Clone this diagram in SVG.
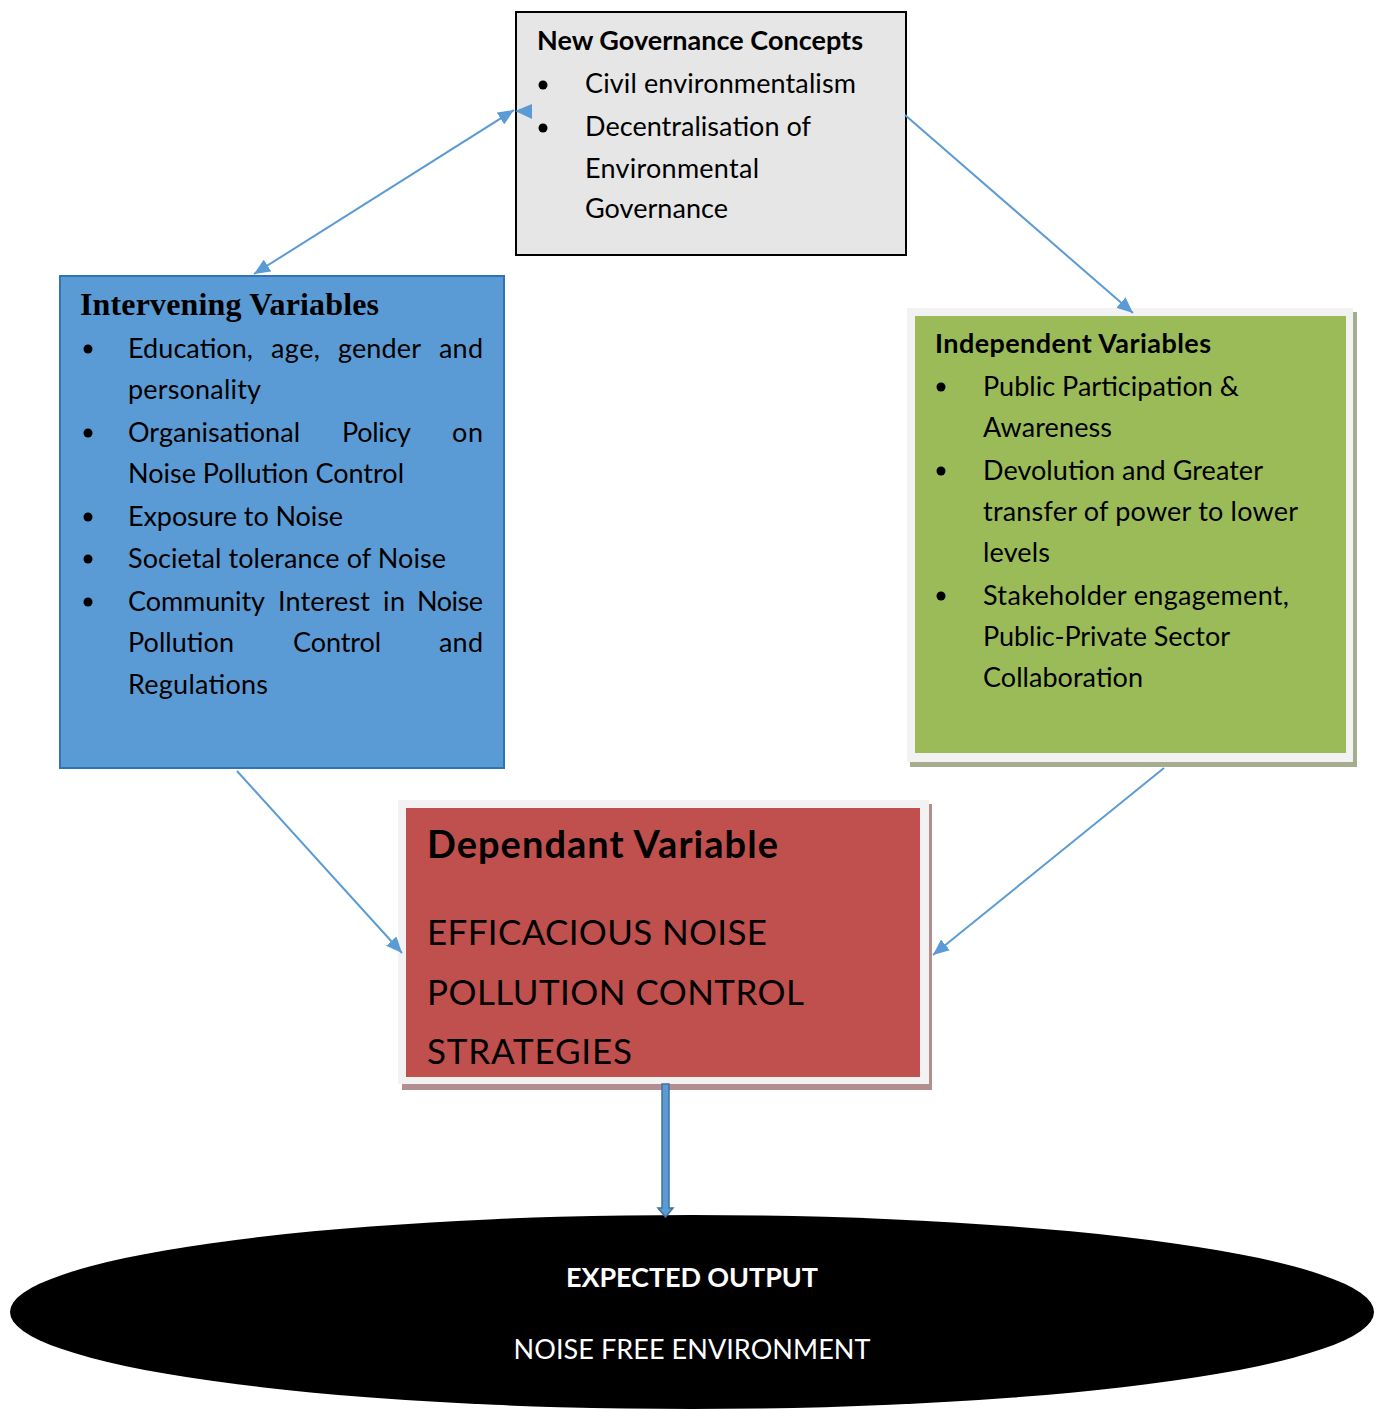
<svg xmlns="http://www.w3.org/2000/svg" width="1383" height="1409" viewBox="0 0 1383 1409">
<defs>
<marker id="ah" markerUnits="userSpaceOnUse" markerWidth="18" markerHeight="14" refX="16" refY="7" orient="auto-start-reverse" viewBox="0 0 18 14">
<path d="M0,0 L16,7 L0,14 z" fill="#5b9bd5"/>
</marker>
<style>
.t{font-family:Lato,"Open Sans","Liberation Sans",sans-serif;font-size:27px;fill:#000}
.b{font-weight:bold}
.w{fill:#fff}
.big{font-size:35px}
.hd{font-size:27px}
.dv{font-size:38px}
.serif{font-family:"Liberation Serif","Times New Roman",serif;font-size:32px;font-weight:bold;fill:#000}
.conn{stroke:#5b9bd5;stroke-width:2;fill:none}
</style>
</defs>
<rect width="1383" height="1409" fill="#fff"/>

<g id="node-output">
<ellipse cx="692" cy="1312" rx="682" ry="97" fill="#000"/>
<text class="t b w" x="692" y="1287" text-anchor="middle" textLength="252">EXPECTED OUTPUT</text>
<text class="t w" x="692" y="1359" text-anchor="middle" textLength="357">NOISE FREE ENVIRONMENT</text>
</g>

<g id="node-governance">
<rect x="516" y="12" width="390" height="243" fill="#e6e6e6" stroke="#000" stroke-width="2"/>
<text class="t b hd" x="537" y="50" textLength="326">New Governance Concepts</text>
<circle cx="543" cy="85" r="4.5"/>
<circle cx="543" cy="128" r="4.5"/>
<text class="t" x="585" y="93" textLength="271">Civil environmentalism</text>
<text class="t" x="585" y="136" textLength="226">Decentralisation of</text>
<text class="t" x="585" y="178" textLength="174">Environmental</text>
<text class="t" x="585" y="218" textLength="143">Governance</text>
</g>

<g id="node-intervening">
<rect x="60" y="276" width="444" height="492" fill="#5b9bd5" stroke="#2e75b6" stroke-width="2"/>
<text class="serif" x="80" y="315" textLength="299">Intervening Variables</text>
<circle cx="88" cy="349" r="4.5"/>
<circle cx="88" cy="433" r="4.5"/>
<circle cx="88" cy="517" r="4.5"/>
<circle cx="88" cy="559" r="4.5"/>
<circle cx="88" cy="602" r="4.5"/>
<text class="t" x="128" y="358" textLength="125">Education,</text>
<text class="t" x="271" y="358" textLength="49">age,</text>
<text class="t" x="338" y="358" textLength="83">gender</text>
<text class="t" x="439" y="358" textLength="44">and</text>
<text class="t" x="128" y="399" textLength="133">personality</text>
<text class="t" x="128" y="442" textLength="172">Organisational</text>
<text class="t" x="342" y="442" textLength="69">Policy</text>
<text class="t" x="452" y="442" textLength="31">on</text>
<text class="t" x="128" y="483" textLength="276">Noise Pollution Control</text>
<text class="t" x="128" y="526" textLength="215">Exposure to Noise</text>
<text class="t" x="128" y="568" textLength="318">Societal tolerance of Noise</text>
<text class="t" x="128" y="611" textLength="137">Community</text>
<text class="t" x="278" y="611" textLength="92">Interest</text>
<text class="t" x="383" y="611" textLength="22">in</text>
<text class="t" x="417" y="611" textLength="66">Noise</text>
<text class="t" x="128" y="652" textLength="106">Pollution</text>
<text class="t" x="293" y="652" textLength="88">Control</text>
<text class="t" x="439" y="652" textLength="44">and</text>
<text class="t" x="128" y="694" textLength="140">Regulations</text>
</g>

<g id="node-independent">
<rect x="910" y="312" width="447" height="455" fill="#a5ad8f"/>
<rect x="907" y="308" width="446" height="454" fill="#f2f2f2"/>
<rect x="915" y="316" width="431" height="437" fill="#9bbb59"/>
<text class="t b hd" x="935" y="353" textLength="276">Independent Variables</text>
<circle cx="941" cy="387" r="4.5"/>
<circle cx="941" cy="471" r="4.5"/>
<circle cx="941" cy="596" r="4.5"/>
<text class="t" x="983" y="396" textLength="256">Public Participation &amp;</text>
<text class="t" x="983" y="437" textLength="129">Awareness</text>
<text class="t" x="983" y="480" textLength="280">Devolution and Greater</text>
<text class="t" x="983" y="521" textLength="315">transfer of power to lower</text>
<text class="t" x="983" y="562" textLength="67">levels</text>
<text class="t" x="983" y="605" textLength="306">Stakeholder engagement,</text>
<text class="t" x="983" y="646" textLength="247">Public-Private Sector</text>
<text class="t" x="983" y="687" textLength="160">Collaboration</text>
</g>

<g id="node-dependant">
<rect x="402" y="804" width="530" height="286" fill="#b38d8f"/>
<rect x="398" y="800" width="531" height="284" fill="#f2f2f2"/>
<rect x="406" y="808" width="514" height="269" fill="#c0504d"/>
<text class="t b dv" x="427" y="858" textLength="351">Dependant Variable</text>
<text class="t big" x="427" y="945" textLength="340">EFFICACIOUS NOISE</text>
<text class="t big" x="427" y="1005" textLength="377">POLLUTION CONTROL</text>
<text class="t big" x="427" y="1064" textLength="205">STRATEGIES</text>
</g>

<g id="connectors">
<line class="conn" x1="254" y1="274" x2="514" y2="110" marker-start="url(#ah)" marker-end="url(#ah)"/>
<path d="M515,111 L532,104 L532,119 z" fill="#5b9bd5"/>
<line class="conn" x1="905" y1="115" x2="1133" y2="313" marker-end="url(#ah)"/>
<line class="conn" x1="237" y1="771" x2="402" y2="953" marker-end="url(#ah)"/>
<line class="conn" x1="1164" y1="768" x2="933" y2="955" marker-end="url(#ah)"/>
<polygon points="662,1084 669,1084 669,1208 673,1208 665.5,1217 658,1208 662,1208" fill="#5b9bd5" stroke="#41719c" stroke-width="1.5"/>
</g>
</svg>
